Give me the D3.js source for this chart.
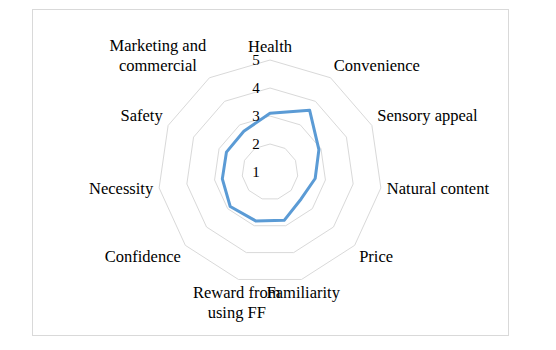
<!DOCTYPE html>
<html>
<head>
<meta charset="utf-8">
<script src="https://cdn.jsdelivr.net/npm/d3@7"></script>
<style>
  body { margin: 0; background: #fff; }
  svg text { font-family: 'Liberation Serif', 'DejaVu Serif', serif; fill: #000; }
</style>
</head>
<body>
<div id="chart"></div>
<script>
// axis categories, clockwise from the top
const categories = [
  ['Health'],
  ['Convenience'],
  ['Sensory appeal'],
  ['Natural content'],
  ['Price'],
  ['Familiarity'],
  ['Reward from', 'using FF'],
  ['Confidence'],
  ['Necessity'],
  ['Safety'],
  ['Marketing and', 'commercial']
];
const values = [3.1, 3.62, 2.92, 2.63, 2.47, 2.8, 2.82, 2.88, 2.72, 2.71, 2.73];
const ticks = [1, 2, 3, 4, 5];

const width = 556;
const height = 350;
const cx = 270, cy = 172;
const R = 112;
const fontFamily = "'Liberation Serif', 'DejaVu Serif', serif";

const svg = d3.select('#chart')
  .append('svg')
  .attr('width', width)
  .attr('height', height);

// chart area border
svg.append('rect')
  .attr('x', 32.5).attr('y', 9.5)
  .attr('width', 476).attr('height', 326)
  .attr('fill', 'none')
  .attr('stroke', '#d9d9d9')
  .attr('stroke-width', 1);

const r = d3.scaleLinear().domain([1, 5]).range([0, R]);
const angle = i => i * 2 * Math.PI / categories.length;

const g = svg.append('g').attr('transform', `translate(${cx},${cy})`);

// grid polygons
const ring = d3.lineRadial()
  .angle((d, i) => angle(i))
  .radius(d => r(d))
  .curve(d3.curveLinearClosed);

g.selectAll('.grid')
  .data(ticks.slice(1))
  .enter()
  .append('path')
  .attr('class', 'grid')
  .attr('d', t => ring(categories.map(() => t)))
  .attr('fill', 'none')
  .attr('stroke', '#d9d9d9')
  .attr('stroke-width', 1);

// series line
g.append('path')
  .attr('d', ring(values))
  .attr('fill', 'none')
  .attr('stroke', '#5b9bd5')
  .attr('stroke-width', 3)
  .attr('stroke-linejoin', 'round');

// tick labels along the top axis
g.selectAll('.tick')
  .data(ticks)
  .enter()
  .append('text')
  .attr('class', 'tick')
  .attr('x', -14)
  .attr('y', t => -r(t))
  .attr('dy', '0.35em')
  .attr('text-anchor', 'middle')
  .attr('font-family', fontFamily)
  .style('font-size', '15px')
  .text(t => t);

// category labels
const labels = g.selectAll('.cat')
  .data(categories)
  .enter()
  .append('text')
  .attr('class', 'cat')
  .attr('font-family', fontFamily)
  .style('font-size', '16.5px')
  .attr('text-anchor', 'middle');

labels.each(function (d, i) {
  const a = angle(i);
  const s = Math.sin(a);
  const c = Math.cos(a);
  const lh = 19.5;
  let base;
  if (c > 0.2) base = -2 - (d.length - 1) * lh;
  else if (c < -0.4) base = 13;
  else base = 5.5;
  const el = d3.select(this);
  const spans = el.selectAll('tspan')
    .data(d)
    .enter()
    .append('tspan')
    .attr('x', 0)
    .attr('y', (line, j) => base + j * lh)
    .text(line => line);
  // shift the centred block so it starts / ends next to the axis tip
  let w = 0;
  spans.each(function () { w = Math.max(w, this.getComputedTextLength()); });
  let x = s * (R + 6);
  if (s > 0.3) x += w / 2;
  else if (s < -0.3) x -= w / 2;
  el.attr('transform', `translate(${x},${-c * (R + 6)})`);
});
</script>
</body>
</html>
